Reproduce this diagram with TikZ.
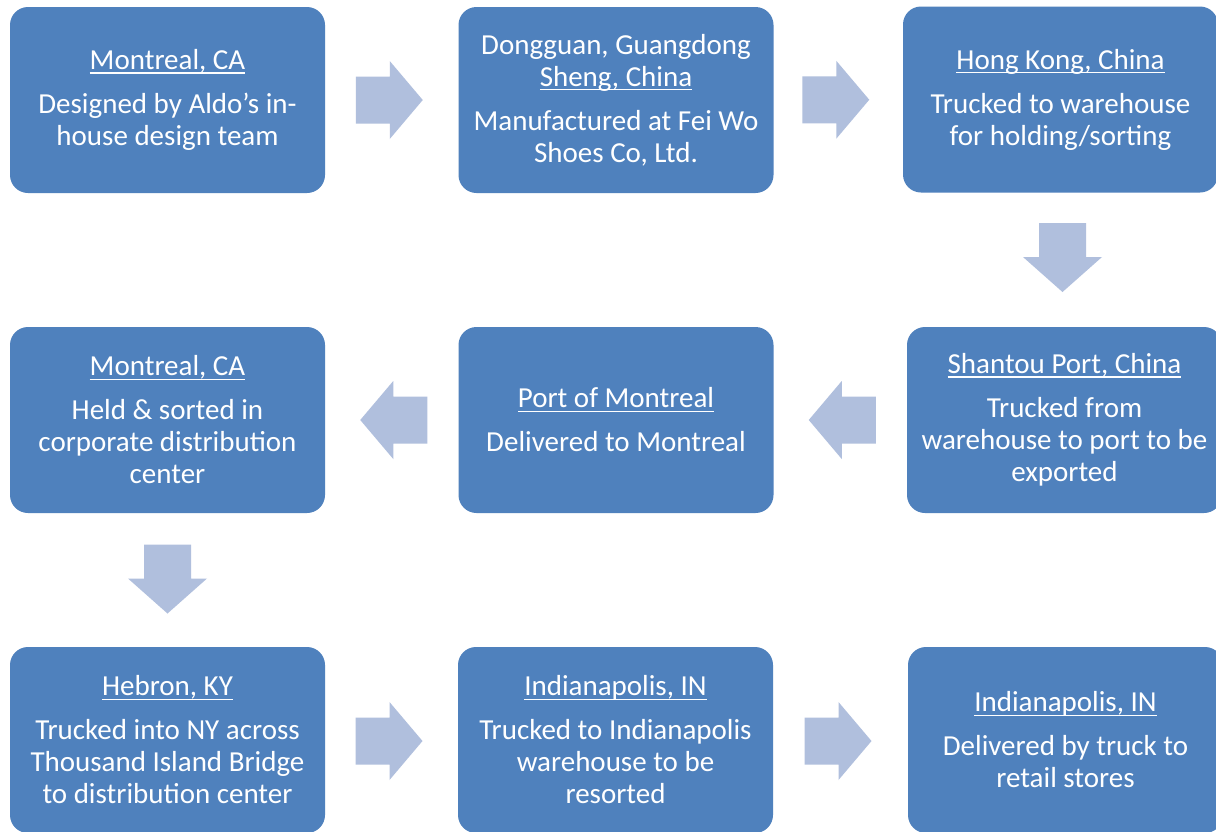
\documentclass[tikz,border=0pt]{standalone}
\usepackage{fontspec}
\setmainfont{Carlito}
\usetikzlibrary{calc}
\definecolor{boxblue}{HTML}{4F81BD}
\definecolor{arrowblue}{HTML}{B0BFDD}
\newsavebox{\ulnbox}
\newcommand\uln[1]{\sbox{\ulnbox}{#1}\rlap{\rule[-4.2pt]{\wd\ulnbox}{1.5pt}}\usebox{\ulnbox}}
\tikzset{
  stepbox/.style={rectangle, rounded corners=18pt, fill=boxblue, text=white,
    minimum width=315pt, minimum height=186pt, inner sep=0pt, align=center,
    font=\fontsize{29}{32}\selectfont},
  rightarrow/.pic={\fill[arrowblue] (-33.5,-23.5) -- (0.5,-23.5) -- (0.5,-39) -- (33.5,0)
     -- (0.5,39) -- (0.5,23.5) -- (-33.5,23.5) -- cycle;},
  leftarrow/.pic={\fill[arrowblue] (33.5,-23.5) -- (-0.5,-23.5) -- (-0.5,-39) -- (-33.5,0)
     -- (-0.5,39) -- (-0.5,23.5) -- (33.5,23.5) -- cycle;},
  downarrow/.pic={\fill[arrowblue] (-23.5,-34.5) -- (-23.5,-0.5) -- (-39.5,-0.5) -- (0,34.5)
     -- (39.5,-0.5) -- (23.5,-0.5) -- (23.5,-34.5) -- cycle;}
}
\begin{document}
\begin{tikzpicture}[x=1pt,y=-1pt]
\clip (0,0) rectangle (1216,831);
\fill[white] (0,0) rectangle (1216,831);
% row 1
\node[stepbox] (b1) at (167.5,100) {\uln{Montreal, CA}\\[12pt]Designed by Aldo’s in-\\house design team};
\node[stepbox] (b2) at (616,100) {Dongguan, Guangdong\\\uln{Sheng, China}\\[12pt]Manufactured at Fei Wo\\Shoes Co, Ltd.};
\node[stepbox] (b3) at (1060.5,99.5) {\uln{Hong Kong, China}\\[12pt]Trucked to warehouse\\for holding/sorting};
% row 2
\node[stepbox] (b4) at (1064.5,420) {\uln{Shantou Port, China}\\[12pt]Trucked from\\warehouse to port to be\\exported};
\node[stepbox] (b5) at (616,420) {\uln{Port of Montreal}\\[12pt]Delivered to Montreal};
\node[stepbox] (b6) at (167.5,420) {\uln{Montreal, CA}\\[12pt]Held \& sorted in\\corporate distribution\\center};
% row 3
\node[stepbox] (b7) at (167.5,740) {\uln{Hebron, KY}\\[12pt]Trucked into NY across\\Thousand Island Bridge\\to distribution center};
\node[stepbox] (b8) at (615.5,740) {\uln{Indianapolis, IN}\\[12pt]Trucked to Indianapolis\\warehouse to be\\resorted};
\node[stepbox] (b9) at (1065.5,740) {\uln{Indianapolis, IN}\\[12pt]Delivered by truck to\\retail stores};
% arrows
\coordinate (a1) at ($(b1.east)!0.5!(b2.west)+(-2.5,0)$);
\coordinate (a2) at ($(b2.east)!0.5!(b3.west)+(-2.5,0)$);
\coordinate (a3) at ($(b3.south)!0.5!(b4.north)+(0,-2.25)$);
\coordinate (a4) at ($(b4.west)!0.5!(b5.east)+(2,0)$);
\coordinate (a5) at ($(b5.west)!0.5!(b6.east)+(2,0)$);
\coordinate (a6) at ($(b6.south)!0.5!(b7.north)+(0,-1)$);
\coordinate (a7) at ($(b7.east)!0.5!(b8.west)+(-2.5,1)$);
\coordinate (a8) at ($(b8.east)!0.5!(b9.west)+(-2.5,1)$);
\pic at (a1) {rightarrow};
\pic at (a2) {rightarrow};
\pic at (a3) {downarrow};
\pic at (a4) {leftarrow};
\pic at (a5) {leftarrow};
\pic at (a6) {downarrow};
\pic at (a7) {rightarrow};
\pic at (a8) {rightarrow};
\end{tikzpicture}
\end{document}
